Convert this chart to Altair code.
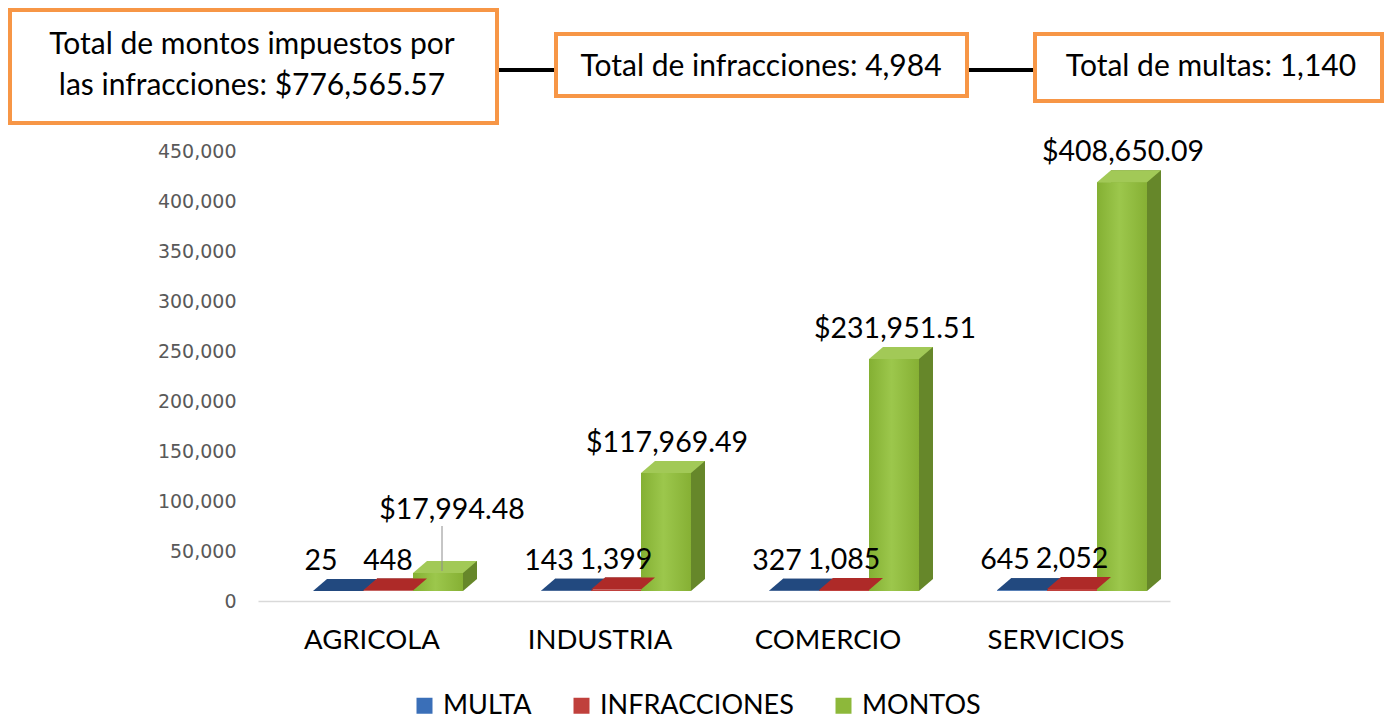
import altair as alt
import pandas as pd

# ---------------- data ----------------
categorias = ["AGRICOLA", "INDUSTRIA", "COMERCIO", "SERVICIOS"]
series = ["MULTA", "INFRACCIONES", "MONTOS"]
multa = [25, 143, 327, 645]
infracciones = [448, 1399, 1085, 2052]
montos = [17994.48, 117969.49, 231951.51, 408650.09]
y_ticks = [0, 50000, 100000, 150000, 200000, 250000, 300000, 350000, 400000, 450000]

rows = []
for i, c in enumerate(categorias):
    for s, vals in zip(series, [multa, infracciones, montos]):
        rows.append({"cat": c, "serie": s, "valor": vals[i]})
df = pd.DataFrame(rows)

total_montos = f"${sum(montos):,.2f}"
total_infr = f"{sum(infracciones):,}"
total_multas = f"{sum(multa):,}"

# ---------------- style ----------------
FONT = "Lato"
front_colors = ["#3A6FB8", "#C0403C", "#8DB83A"]
top_colors = ["#22497F", "#AE2A28", "#A2C957"]
side_colors = ["#1C3A68", "#7A1F1D", "#66872A"]
bar_dx = [-34, 16, 66]          # bar centre relative to category centre (px)
ORANGE = "#F79646"
W, H = 912, 450
DX, DY, F = 14, 12, 10          # 3D depth (px) and front lift (px)
TOP_PATH = "M -1 0 L 1 0 L 1.56 -0.48 L -0.44 -0.48 Z"   # unit = 25 px with size 2500
FOOT_PATH = "M 1 0 L 1 -0.48 L 1.56 -0.48 Z"

x_enc = alt.X(
    "cat:N", sort=categorias,
    scale=alt.Scale(paddingInner=0, paddingOuter=0),
    axis=alt.Axis(title=None, labelAngle=0, labelFontSize=27.5, labelColor="black",
                  labelFont=FONT, labelPadding=25, ticks=False,
                  domainColor="#D9D9D9", domainWidth=1.5),
)
y_enc = alt.Y(
    "valor:Q",
    scale=alt.Scale(domain=[0, 450000], nice=False),
    axis=alt.Axis(title=None, values=y_ticks, labelExpr="format(datum.value, ',')",
                  labelFontSize=19, labelColor="#595959", labelFont="DejaVu Sans",
                  labelPadding=22, ticks=False, domain=False, grid=False),
)


def xoff(shift):
    return alt.XOffset(
        "serie:N", sort=series,
        scale=alt.Scale(domain=series, range=[55 + shift, 205 + shift],
                        paddingInner=0, paddingOuter=0),
    )


def col(rng, legend=None):
    return alt.Color("serie:N", sort=series,
                     scale=alt.Scale(domain=series, range=rng), legend=legend)


base = alt.Chart(df)

side = base.mark_bar(yOffset=-F - DY, y2Offset=-F - DY).encode(
    x=x_enc, y=y_enc, xOffset=xoff(DX), color=col(side_colors))

feet = [
    base.transform_filter(alt.datum.serie == s).mark_point(
        shape=FOOT_PATH, size=2500, filled=True, color=c, opacity=1, strokeWidth=0,
        xOffset=dx, yOffset=-F).encode(x=x_enc, y=alt.datum(0))
    for s, c, dx in zip(series, side_colors, bar_dx)
]

legend = alt.Legend(orient="none", legendX=153, legendY=541, direction="horizontal",
                    title=None, labelFontSize=27, labelFont=FONT, labelColor="black",
                    labelLimit=400, symbolType="square", symbolSize=256, symbolStrokeWidth=0,
                    columnPadding=36, labelOffset=5)
front = base.mark_bar(yOffset=-F, y2Offset=-F).encode(
    x=x_enc, y=y_enc, xOffset=xoff(0), color=col(front_colors, legend))

green_grad = alt.LinearGradient(
    gradient="linear", x1=0, x2=1, y1=0, y2=0,
    stops=[alt.GradientStop(offset=0, color="#84B033"),
           alt.GradientStop(offset=0.45, color="#9CC74C"),
           alt.GradientStop(offset=1, color="#86B034")])
front_green = base.transform_filter(alt.datum.serie == "MONTOS").mark_bar(
    yOffset=-F, y2Offset=-F, color=green_grad).encode(
    x=x_enc, y=y_enc, xOffset=xoff(0))

tops = [
    base.transform_filter(alt.datum.serie == s).mark_point(
        shape=TOP_PATH, size=2500, filled=True, color=c, opacity=1, strokeWidth=0,
        xOffset=dx, yOffset=-F).encode(x=x_enc, y=y_enc)
    for s, c, dx in zip(series, top_colors, bar_dx)
]

txt_kw = dict(fontSize=28.5, font=FONT, color="black", baseline="middle", align="center")


def value_text(cond, fmt, dx, dy=-40):
    return base.transform_filter(cond).mark_text(dx=dx, dy=dy, **txt_kw).encode(
        x=x_enc, y=y_enc, text=alt.Text("valor:Q", format=fmt))


agri_montos = (alt.datum.serie == "MONTOS") & (alt.datum.cat == "AGRICOLA")
t_multa = value_text(alt.datum.serie == "MULTA", ",", -51)
t_infr = value_text(alt.datum.serie == "INFRACCIONES", ",", 16)
t_mont = value_text((alt.datum.serie == "MONTOS") & (alt.datum.cat != "AGRICOLA"), "$,.2f", 67)
t_agri = value_text(agri_montos, "$,.2f", 80, -73)
leader = base.transform_filter(agri_montos).mark_rule(
    color="#8C8C8C", strokeWidth=1, xOffset=70, yOffset=-57, y2Offset=-12).encode(
    x=x_enc, y=y_enc, y2=alt.Y2("valor:Q"))

# ---------------- header boxes ----------------
one = pd.DataFrame({"k": [0]})


def box(x1, x2, y1, y2):
    return alt.Chart(one).mark_rect(fill="white", stroke=ORANGE, strokeWidth=4).encode(
        x=alt.value(x1), x2=alt.value(x2), y=alt.value(y1), y2=alt.value(y2))


def label(txt, x, y):
    return alt.Chart(one).mark_text(fontSize=30, font=FONT, color="black",
                                    align="center", baseline="middle", text=txt).encode(
        x=alt.value(x), y=alt.value(y))


def connector(x1, x2, y):
    return alt.Chart(one).mark_rule(color="black", strokeWidth=4).encode(
        x=alt.value(x1), x2=alt.value(x2), y=alt.value(y))


header = [
    connector(239, 298, -81),
    connector(709, 777, -81),
    box(-248, 239, -141, -28),
    box(298, 709, -117, -55),
    box(777, 1124, -117, -50),
    label("Total de montos impuestos por", -6, -106),
    label(f"las infracciones: {total_montos}", -6, -65),
    label(f"Total de infracciones: {total_infr}", 503, -84),
    label(f"Total de multas: {total_multas}", 953, -84),
]

chart = alt.layer(
    side, *feet, front, front_green, *tops, t_multa, t_infr, t_mont, t_agri, leader, *header
).resolve_scale(
    color="independent", xOffset="independent"
).properties(
    width=W, height=H, padding=0, background="white"
).configure_view(stroke=None)

chart.save("out.html", embed_options={"renderer": "svg", "actions": False})
